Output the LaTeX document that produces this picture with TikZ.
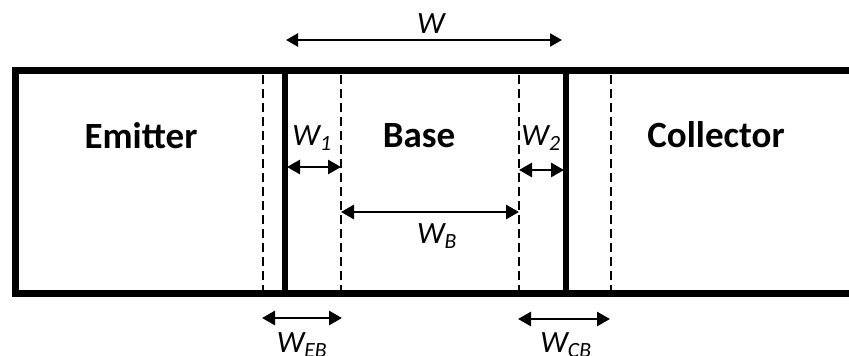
\documentclass[tikz,border=0pt]{standalone}
\usepackage{fontspec}
\setmainfont{Carlito}
\usetikzlibrary{arrows.meta}
\begin{document}
\begin{tikzpicture}[x=1pt,y=-1pt,
  frame/.style={line width=7pt},
  divider/.style={line width=5.5pt},
  dashline/.style={line width=2.5pt,dash pattern=on 9pt off 5pt},
  dim/.style={line width=2.8pt,{Triangle[length=13pt,width=14pt]}-{Triangle[length=13pt,width=14pt]}},
  region/.style={font=\fontsize{37}{40}\selectfont\bfseries,anchor=base,inner sep=0pt},
  lab/.style={font=\fontsize{31}{36}\selectfont\itshape,anchor=base,inner sep=0pt}]
\useasboundingbox (0,0) rectangle (849,356);
% frame (open on the right)
\draw[frame] (849,70.5) -- (15.5,70.5) -- (15.5,293) -- (849,293);
% junction lines
\draw[divider] (285,70.5) -- (285,293);
\draw[divider] (566,70.5) -- (566,293);
% depletion edges
\coordinate (d1t) at (263,75); \coordinate (d1b) at (263,290);
\coordinate (d2t) at (341,75); \coordinate (d2b) at (341,290);
\coordinate (d3t) at (519,75); \coordinate (d3b) at (519,290);
\coordinate (d4t) at (611,75); \coordinate (d4b) at (611,290);
\draw[dashline] (d1t) -- (d1b);
\draw[dashline] (d2t) -- (d2b);
\draw[dashline] (d3t) -- (d3b);
\draw[dashline] (d4t) -- (d4b);
% region labels
\node[region] (em) at (141,148) {Emitter};
\node[region] (ba) at (419,147) {Base};
\node[region] (co) at (716,147) {Collector};
% dimension arrows
\coordinate (wl) at (286,40); \coordinate (wr) at (562,40);
\draw[line width=2.3pt,{Triangle[length=12pt,width=13pt]}-{Triangle[length=12pt,width=13pt]}] (wl) -- (wr);
\node[lab] (w) at (431,33) {W};
\coordinate (w1l) at (287,167); \coordinate (w1r) at (341,167);
\draw[dim] (w1l) -- (w1r);
\node[lab] (w1) at (312,145) {W\textsubscript{1}};
\coordinate (w2l) at (519,170); \coordinate (w2r) at (564,170);
\draw[dim] (w2l) -- (w2r);
\node[lab] (w2) at (541,145) {W\textsubscript{2}};
\coordinate (wbl) at (341,212); \coordinate (wbr) at (519,212);
\draw[dim] (wbl) -- (wbr);
\node[lab] (wb) at (437,243) {W\textsubscript{B}};
\coordinate (webl) at (262,318); \coordinate (webr) at (342,318);
\draw[dim] (webl) -- (webr);
\node[lab] (web) at (302,352) {W\textsubscript{EB}};
\coordinate (wcbl) at (518,319); \coordinate (wcbr) at (610,319);
\draw[dim] (wcbl) -- (wcbr);
\node[lab] (wcb) at (566,352) {W\textsubscript{CB}};
\end{tikzpicture}
\end{document}
